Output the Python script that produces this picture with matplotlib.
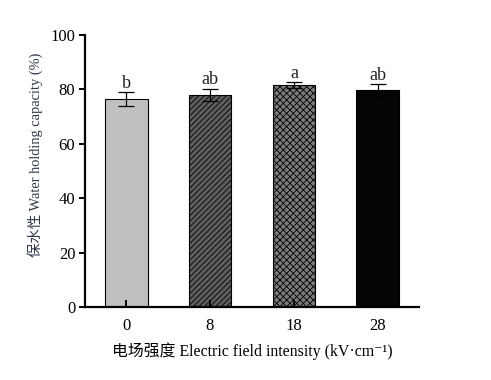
import matplotlib
matplotlib.use("Agg")
import matplotlib.pyplot as plt
import numpy as np

fams = ['Liberation Serif', 'Noto Sans CJK SC', 'DejaVu Serif']
plt.rcParams['font.family'] = fams
plt.rcParams['hatch.linewidth'] = 0.6

categories = ['0', '8', '18', '28']
values = [76.4, 78.1, 81.6, 79.8]
errors = [2.5, 2.2, 1.1, 2.1]
letters = ['b', 'ab', 'a', 'ab']
yticks = [0, 20, 40, 60, 80, 100]

facecolors = ['#c0c0c0', '#5e5e5e', '#7a7a7a', '#050505']
hatches = [None, '//////', 'xxxxx', None]

fig = plt.figure(figsize=(4.91, 3.8), dpi=100)
ax = fig.add_axes([85/491, 1-307/380, (419-85)/491, (307-35)/380])

x = np.arange(len(categories))
bars = ax.bar(x, values, width=0.51, color=facecolors, edgecolor='black', linewidth=0.8)
for b, h in zip(bars, hatches):
    if h:
        b.set_hatch(h)
ax.errorbar(x, values, yerr=errors, fmt='none', ecolor='black', elinewidth=0.9, capsize=5.5, capthick=0.9)
for xi, v, e, l in zip(x, values, errors, letters):
    ax.text(xi, v + e + 1.6, l, ha='center', va='baseline', fontsize=13, color='#222222')

ax.set_xlim(-0.49, 3.49)
ax.set_ylim(0, 100)
ax.set_yticks(yticks)
ax.set_xticks(x)
ax.set_xticklabels(categories)
for s in ['top', 'right']:
    ax.spines[s].set_visible(False)
for s in ['left', 'bottom']:
    ax.spines[s].set_linewidth(1.6)
ax.tick_params(axis='y', direction='out', length=4, width=1.4, labelsize=12, pad=3)
ax.tick_params(axis='x', direction='in', length=5, width=1.4, labelsize=12, pad=8)

fig.text(35/491, 1-155/380, '保水性 Water holding capacity (%)', rotation=90,
         ha='center', va='center', fontsize=10.4, color='#2e3848')
fig.text(252/491, 1-351/380, '电场强度 Electric field intensity (kV·cm⁻¹)',
         ha='center', va='center', fontsize=11.4)

fig.savefig('out.png', dpi=100)
